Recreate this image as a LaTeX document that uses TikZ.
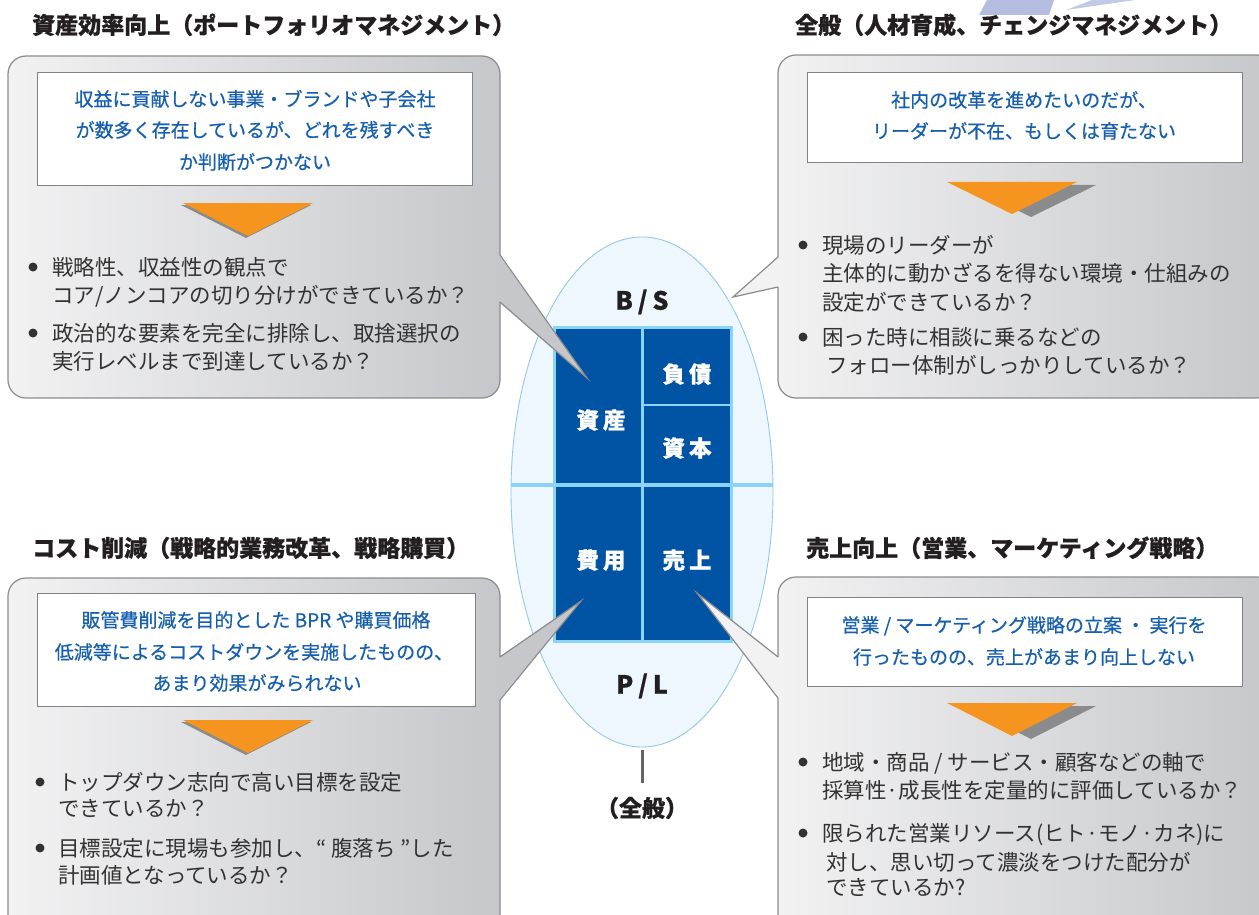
\documentclass[tikz,border=0pt]{standalone}
\usepackage{fontspec}
\setmainfont{Noto Sans CJK JP}
\newfontfamily\heavyfont[BoldFeatures={FakeBold=0.7}]{Noto Sans CJK JP}
\newfontfamily\medfont[FakeBold=0.5]{Noto Sans CJK JP}
\usetikzlibrary{shapes.geometric}
\definecolor{lav}{RGB}{180,189,224}
\definecolor{ellf}{RGB}{238,247,253}
\definecolor{ellb}{RGB}{150,200,228}
\definecolor{dkb}{RGB}{0,84,163}
\definecolor{ltb}{RGB}{140,212,245}
\definecolor{pgl}{RGB}{242,242,243}
\definecolor{pgr}{RGB}{198,199,202}
\definecolor{pbc}{RGB}{140,140,142}
\definecolor{boxb}{RGB}{130,130,132}
\definecolor{org}{RGB}{245,149,31}
\definecolor{shad}{RGB}{138,139,141}
\definecolor{bluet}{RGB}{22,95,175}
\definecolor{ttlc}{RGB}{35,31,32}
\definecolor{bulc}{RGB}{50,50,50}
\definecolor{connc}{RGB}{100,100,100}
\begin{document}
\begin{tikzpicture}[x=1pt,y=-1pt,
  ttl/.style={font=\heavyfont\bfseries\fontsize{23}{23}\selectfont, text=ttlc, anchor=west, inner sep=0, text height=20.2pt, text depth=2.8pt},
  bl/.style={font=\fontsize{21.5}{21.5}\selectfont, text=bulc, anchor=west, inner sep=0, text height=18.9pt, text depth=2.6pt},
  bx/.style={font=\medfont\fontsize{19}{19}\selectfont, text=bluet, inner sep=0, text height=16.7pt, text depth=2.3pt},
  bdot/.style={circle, fill=bulc, inner sep=0, minimum size=9pt},
  cellt/.style={font=\heavyfont\bfseries\fontsize{22.5}{22.5}\selectfont, text=white, inner sep=0, text height=19.8pt, text depth=2.7pt},
  lbl/.style={font=\heavyfont\bfseries\fontsize{23}{23}\selectfont, text=ttlc, inner sep=0, text height=20.2pt, text depth=2.8pt},
  pbd/.style={draw=pbc, line width=1.2pt},
  wbox/.style={draw=boxb, fill=white, line width=0.9pt, inner sep=0},
  conn/.style={draw=connc, line width=3pt}
]
\useasboundingbox (0,0) rectangle (1259,915);
\fill[white] (0,0) rectangle (1259,915);

% lavender fragments at top
\fill[lav] (979,15) -- (987,0) -- (1054,0) -- (1049,15) -- cycle;
\fill[lav!80] (1066,10) -- (1092,0) -- (1135,0) -- cycle;

% central ellipse with B/S and P/L grid
\node[ellipse, draw=ellb, fill=ellf, line width=0.9pt, minimum width=262pt, minimum height=510pt, inner sep=0] (ell) at (642,492) {};
\fill[dkb] (554.5,327) rectangle (731.5,641.5);
\draw[ltb, line width=4pt] (511.3,484.5) -- (772.7,484.5);
\draw[ltb, line width=3pt] (554.5,327) rectangle (731.5,641.5);
\draw[ltb, line width=2.5pt] (642.5,327) -- (642.5,641.5);
\draw[ltb, line width=2.5pt] (642.5,405) -- (731.5,405);
\node[cellt] (shisan) at (601,420) {資\hspace{4pt}産};
\node[cellt] (fusai) at (687,374) {負\hspace{4pt}債};
\node[cellt] (shihon) at (687,448) {資\hspace{4pt}本};
\node[cellt] (hiyo) at (601,560) {費\hspace{4pt}用};
\node[cellt] (uriage) at (687,560) {売\hspace{4pt}上};
\node[lbl, font=\heavyfont\bfseries\fontsize{25}{25}\selectfont] (bs) at (642,301) {B\hspace{5pt}/\hspace{5pt}S};
\node[lbl, font=\heavyfont\bfseries\fontsize{25}{25}\selectfont] (pl) at (642,685) {P\hspace{5pt}/\hspace{5pt}L};
\node[lbl] (zen) at (642,808) {（全般）};
\draw[conn, shorten <=3pt, shorten >=13pt] (ell.south) -- (zen.north);

% ===== top-left panel =====
\node[ttl] (ttlTL) at (32,25) {資産効率向上（ポートフォリオマネジメント）};
\shade[left color=pgl, right color=pgr, rounded corners=18pt] (8,56) rectangle (500,398);
\fill[pgr] (499,255) -- (587,378) -- (499,302) -- cycle;
\draw[pbd, rounded corners=18pt] (500,302) -- (500,398) -- (8,398) -- (8,56) -- (500,56) -- (500,255);
\draw[pbd] (500,255) -- (587,378) -- (500,302);
\node[wbox, minimum width=435pt, minimum height=113pt] (boxTL) at (254.5,128.5) {};
\node[bx] (tlx1) at (255,99) {収益に貢献しない事業・ブランドや子会社};
\node[bx] (tlx2) at (255,130) {が数多く存在しているが、どれを残すべき};
\node[bx] (tlx3) at (255,162) {か判断がつかない};
\fill[shad] (181,205) -- (311,205) -- (246,238) -- cycle;
\fill[org] (183,203) -- (313,203) -- (248,236) -- cycle;
\node[bdot] (dTL1) at (33,267) {};
\node[bl] (t1a) at (52,267) {戦略性、収益性の観点で};
\node[bl] (t1b) at (52,295) {コア/ノンコアの切り分けができているか？};
\node[bdot] (dTL2) at (33,333) {};
\node[bl] (t2a) at (52,333) {政治的な要素を完全に排除し、取捨選択の};
\node[bl] (t2b) at (52,361) {実行レベルまで到達しているか？};

% ===== top-right panel =====
\node[ttl] (ttlTR) at (795,25) {全般（人材育成、チェンジマネジメント）};
\shade[left color=pgl, right color=pgr, rounded corners=18pt] (778,55) rectangle (1275,398);
\fill[pgl] (779,257) -- (733,297) -- (779,287) -- cycle;
\draw[pbd, rounded corners=18pt] (778,257) -- (778,55) -- (1275,55) -- (1275,398) -- (778,398) -- (778,287);
\draw[pbd] (778,287) -- (733,297) -- (778,257);
\node[wbox, minimum width=435pt, minimum height=90pt] (boxTR) at (1024.5,117) {};
\node[bx] (trx1) at (1024,100) {社内の改革を進めたいのだが、};
\node[bx] (trx2) at (1024,131) {リーダーが不在、もしくは育たない};
\fill[shad] (966,185) -- (1096,185) -- (1031,217) -- cycle;
\fill[org] (947,182) -- (1077,182) -- (1012,214) -- cycle;
\node[bdot] (dTR1) at (803,245) {};
\node[bl] (r1a) at (822,245) {現場のリーダーが};
\node[bl] (r1b) at (822,273) {主体的に動かざるを得ない環境・仕組みの};
\node[bl] (r1c) at (822,302) {設定ができているか？};
\node[bdot] (dTR2) at (803,337) {};
\node[bl] (r2a) at (822,337) {困った時に相談に乗るなどの};
\node[bl] (r2b) at (826,365) {フォロー体制がしっかりしているか？};

% ===== bottom-left panel =====
\node[ttl] (ttlBL) at (32,548) {コスト削減（戦略的業務改革、戦略購買）};
\shade[left color=pgl, right color=pgr, rounded corners=18pt] (8,578) rectangle (500,935);
\fill[pgr] (499,657) -- (581,601) -- (499,700) -- cycle;
\draw[pbd, rounded corners=18pt] (500,700) -- (500,935) -- (8,935) -- (8,578) -- (500,578) -- (500,657);
\draw[pbd] (500,657) -- (581,601) -- (500,700);
\node[wbox, minimum width=438pt, minimum height=113pt] (boxBL) at (256,649.5) {};
\node[bx] (blx1) at (256,620) {販管費削減を目的とした BPR や購買価格};
\node[bx] (blx2) at (254,652) {低減等によるコストダウンを実施したものの、};
\node[bx] (blx3) at (257,683) {あまり効果がみられない};
\fill[shad] (181,722) -- (311,722) -- (246,755) -- cycle;
\fill[org] (183,720) -- (313,720) -- (248,753) -- cycle;
\node[bdot] (dBL1) at (40,782) {};
\node[bl] (b1a) at (58,782) {トップダウン志向で高い目標を設定};
\node[bl] (b1b) at (58,808) {できているか？};
\node[bdot] (dBL2) at (40,848) {};
\node[bl] (b2a) at (58,848) {目標設定に現場も参加し、“ 腹落ち ”した};
\node[bl] (b2b) at (58,875) {計画値となっているか？};

% ===== bottom-right panel =====
\node[ttl] (ttlBR) at (806,548) {売上向上（営業、マーケティング戦略）};
\shade[left color=pgl, right color=pgr, rounded corners=18pt] (778,577) rectangle (1275,935);
\fill[pgl] (779,657) -- (697,593) -- (779,698) -- cycle;
\draw[pbd, rounded corners=18pt] (778,657) -- (778,577) -- (1275,577) -- (1275,935) -- (778,935) -- (778,698);
\draw[pbd] (778,698) -- (697,593) -- (778,657);
\node[wbox, minimum width=435pt, minimum height=89pt] (boxBR) at (1024.5,641.5) {};
\node[bx] (brx1) at (1024,625) {営業 / マーケティング戦略の立案 ・ 実行を};
\node[bx] (brx2) at (1024,657) {行ったものの、売上があまり向上しない};
\fill[shad] (966,706) -- (1096,706) -- (1031,739) -- cycle;
\fill[org] (947,703) -- (1077,703) -- (1012,736) -- cycle;
\node[bdot] (dBR1) at (803,762) {};
\node[bl] (s1a) at (822,762) {地域・商品 / サービス・顧客などの軸で};
\node[bl] (s1b) at (822,790) {採算性·成長性を定量的に評価しているか？};
\node[bdot] (dBR2) at (803,833) {};
\node[bl] (s2a) at (822,833) {限られた営業リソース(ヒト·モノ·カネ)に};
\node[bl] (s2b) at (826,862) {対し、思い切って濃淡をつけた配分が};
\node[bl] (s2c) at (826,887) {できているか?};
\end{tikzpicture}
\end{document}
